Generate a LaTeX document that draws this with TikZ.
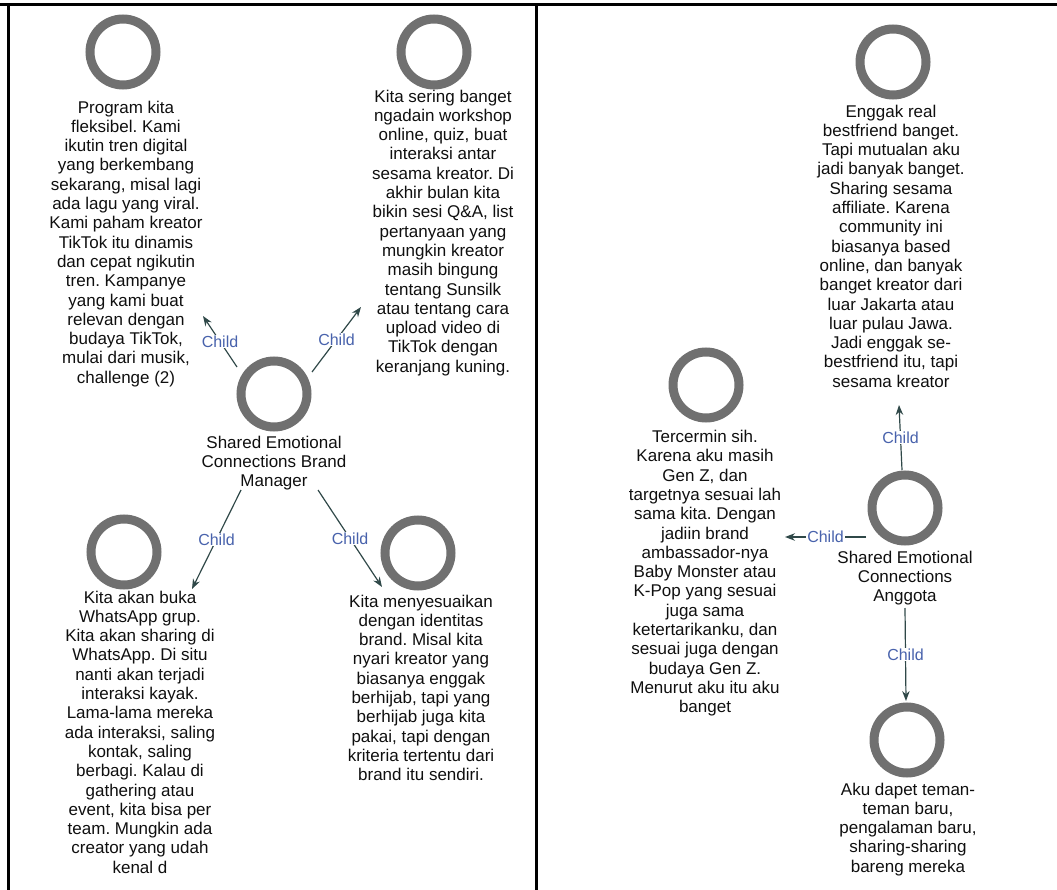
\documentclass[tikz,border=0pt]{standalone}
\usepackage{fontspec}
\setmainfont{Liberation Sans}
\usetikzlibrary{arrows.meta}
\definecolor{ringc}{RGB}{112,112,112}
\definecolor{edgec}{RGB}{47,72,72}
\definecolor{lblc}{RGB}{72,98,172}
\definecolor{txtc}{RGB}{15,15,15}
\frenchspacing
\begin{document}
\begin{tikzpicture}[x=1pt,y=-1pt,
 ring/.style={circle,draw=ringc,line width=9pt,minimum size=66pt,inner sep=0pt},
 txt/.style={anchor=north,align=center,inner sep=0pt,text=txtc,font=\fontsize{17}{19.3}\selectfont,execute at begin node=\strut},
 edge/.style={draw=edgec,line width=1.2pt,-{Stealth[length=10pt,width=7.5pt]}},
 lbl/.style={fill=white,inner sep=1pt,text=lblc,font=\fontsize{16}{16}\selectfont},
 frame/.style={line width=3pt}]
\useasboundingbox (0,0) rectangle (1057,890);
% frame
\draw[frame] (0,5) -- (1057,5);
\draw[frame] (8,5) -- (8,890);
\draw[frame] (536,5) -- (536,890);

% left panel
\node[ring] (Ac) at (123,52) {};
\node[txt] (At) at (126,100.5) {Program kita\\fleksibel. Kami\\ikutin tren digital\\yang berkembang\\sekarang, misal lagi\\ada lagu yang viral.\\Kami paham kreator\\TikTok itu dinamis\\dan cepat ngikutin\\tren. Kampanye\\yang kami buat\\relevan dengan\\budaya TikTok,\\mulai dari musik,\\challenge (2)};

\node[ring] (Bc) at (434,52) {};
\node[txt] (Bt) at (443,89.5) {Kita sering banget\\ngadain workshop\\online, quiz, buat\\interaksi antar\\sesama kreator. Di\\akhir bulan kita\\bikin sesi Q\&A, list\\pertanyaan yang\\mungkin kreator\\masih bingung\\tentang Sunsilk\\atau tentang cara\\upload video di\\TikTok dengan\\keranjang kuning.};

\node[ring] (Cc) at (274,394) {};
\node[txt] (Ct) at (274,435.5) {Shared Emotional\\Connections Brand\\Manager};

\node[ring] (Dc) at (124,552) {};
\node[txt] (Dt) at (140,590.5) {Kita akan buka\\WhatsApp grup.\\Kita akan sharing di\\WhatsApp. Di situ\\nanti akan terjadi\\interaksi kayak.\\Lama-lama mereka\\ada interaksi, saling\\kontak, saling\\berbagi. Kalau di\\gathering atau\\event, kita bisa per\\team. Mungkin ada\\creator yang udah\\kenal d};

\node[ring] (Ec) at (418,553) {};
\node[txt] (Et) at (421,594.5) {Kita menyesuaikan\\dengan identitas\\brand. Misal kita\\nyari kreator yang\\biasanya enggak\\berhijab, tapi yang\\berhijab juga kita\\pakai, tapi dengan\\kriteria tertentu dari\\brand itu sendiri.};

\coordinate (CA1) at (237,367); \coordinate (CA2) at (203,316);
\coordinate (CB1) at (312,372); \coordinate (CB2) at (361,307);
\coordinate (CD1) at (241,490); \coordinate (CD2) at (192,589);
\coordinate (CE1) at (318,490); \coordinate (CE2) at (382,587);
\draw[edge] (CA1) -- node[lbl]{Child} (CA2);
\draw[edge] (CB1) -- node[lbl]{Child} (CB2);
\draw[edge] (CD1) -- node[lbl]{Child} (CD2);
\draw[edge] (CE1) -- node[lbl]{Child} (CE2);

% right panel
\node[ring] (Fc) at (893,62) {};
\node[txt] (Ft) at (891,104.5) {Enggak real\\bestfriend banget.\\Tapi mutualan aku\\jadi banyak banget.\\Sharing sesama\\affiliate. Karena\\community ini\\biasanya based\\online, dan banyak\\banget kreator dari\\luar Jakarta atau\\luar pulau Jawa.\\Jadi enggak se-\\bestfriend itu, tapi\\sesama kreator};

\node[ring] (Gc) at (706,385) {};
\node[txt] (Gt) at (705,430) {Tercermin sih.\\Karena aku masih\\Gen Z, dan\\targetnya sesuai lah\\sama kita. Dengan\\jadiin brand\\ambassador-nya\\Baby Monster atau\\K-Pop yang sesuai\\juga sama\\ketertarikanku, dan\\sesuai juga dengan\\budaya Gen Z.\\Menurut aku itu aku\\banget};

\node[ring] (Hc) at (905,508) {};
\node[txt] (Ht) at (905,550.5) {Shared Emotional\\Connections\\Anggota};

\node[ring] (Ic) at (907,740) {};
\node[txt] (It) at (908,782.5) {Aku dapet teman-\\teman baru,\\pengalaman baru,\\sharing-sharing\\bareng mereka};

\coordinate (HF1) at (902,470); \coordinate (HF2) at (899,405);
\coordinate (HI1) at (905,608); \coordinate (HI2) at (906,701);
\coordinate (HG1) at (866,537); \coordinate (HG2) at (785,537);
\draw[edge] (HF1) -- node[lbl]{Child} (HF2);
\draw[edge] (HI1) -- node[lbl]{Child} (HI2);
\draw[edge] (HG1) -- node[lbl]{Child} (HG2);
\end{tikzpicture}
\end{document}
